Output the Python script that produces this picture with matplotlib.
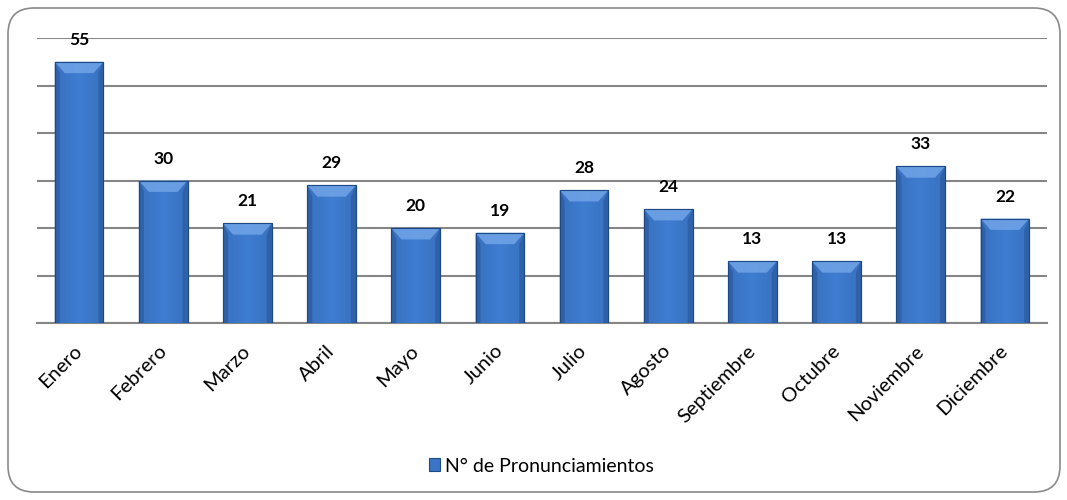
import matplotlib
matplotlib.use("Agg")
import matplotlib.pyplot as plt
import numpy as np
from matplotlib.patches import FancyBboxPatch, Polygon, Rectangle
from matplotlib.transforms import IdentityTransform

months = ["Enero", "Febrero", "Marzo", "Abril", "Mayo", "Junio", "Julio",
          "Agosto", "Septiembre", "Octubre", "Noviembre", "Diciembre"]
values = [55, 30, 21, 29, 20, 19, 28, 24, 13, 13, 33, 22]
series_name = "N° de Pronunciamientos"

plt.rcParams['font.family'] = ['Lato', 'DejaVu Sans']

fig = plt.figure(figsize=(10.67, 5.0), dpi=100)
W, H = 1067, 500

# rounded border (pixel coords)
border = FancyBboxPatch((8, 8), 1052, 484,
                        boxstyle="round,pad=0,rounding_size=26",
                        transform=IdentityTransform(), facecolor="none",
                        edgecolor="#8a8a8a", linewidth=1.2, zorder=-1)
fig.patches.append(border)

ax = fig.add_axes([37 / W, 1 - 323 / H, (1047 - 37) / W, (323 - 38) / H])
ax.set_facecolor("none")
ax.set_yticks(np.arange(0, 61, 10))
ax.yaxis.grid(True, color="#868686", linewidth=1.5)
ax.set_axisbelow(True)
for s in ["top", "right", "left"]:
    ax.spines[s].set_visible(False)
ax.spines["bottom"].set_color("#868686")
ax.spines["bottom"].set_linewidth(1.5)
ax.tick_params(axis="y", length=0, labelleft=False)
ax.tick_params(axis="x", length=0, pad=18)

x = np.arange(len(months))
bw = 0.58
bars = ax.bar(x, values, width=bw, color="#3b76c6", edgecolor="#1d4a86",
              linewidth=0.8, zorder=3, label=series_name)

# gradient/bevel decoration
grad = np.linspace(0, 1, 64)
prof = 1 - 0.35 * np.abs(grad - 0.5) * 2
cmap_img = np.zeros((1, 64, 4))
base = np.array([0x3b, 0x76, 0xc6]) / 255
for i, p in enumerate(prof):
    c = base * (0.78 + 0.28 * p)
    cmap_img[0, i, :3] = np.clip(c, 0, 1)
    cmap_img[0, i, 3] = 1
for rect, v in zip(bars, values):
    x0 = rect.get_x()
    w = rect.get_width()
    im = ax.imshow(cmap_img, extent=(x0, x0 + w, 0, v), aspect="auto",
                   zorder=3.1, interpolation="bilinear")
    im.set_clip_path(rect)
    dy = 2.4
    dx = 0.12
    top = Polygon([(x0, v), (x0 + w, v), (x0 + w - dx, v - dy), (x0 + dx, v - dy)],
                  closed=True, facecolor="#6ea2e6", edgecolor="none", zorder=3.2, alpha=0.9)
    ax.add_patch(top)
    left = Polygon([(x0, 0), (x0, v), (x0 + dx * 0.5, v - dy), (x0 + dx * 0.5, 0)],
                   closed=True, facecolor="#2a5a9e", edgecolor="none", zorder=3.2, alpha=0.7)
    right = Polygon([(x0 + w, 0), (x0 + w, v), (x0 + w - dx * 0.5, v - dy), (x0 + w - dx * 0.5, 0)],
                    closed=True, facecolor="#2a5a9e", edgecolor="none", zorder=3.2, alpha=0.7)
    ax.add_patch(left)
    ax.add_patch(right)
    outline = Rectangle((x0, 0), w, v, facecolor="none", edgecolor="#1d4a86",
                        linewidth=0.8, zorder=3.3)
    ax.add_patch(outline)
    ax.annotate(str(v), (x0 + w / 2, v), xytext=(0, 10), textcoords="offset points",
                ha="center", va="bottom", fontsize=12.5, fontweight="bold",
                color="black", zorder=4)

ax.set_xlim(-0.5, len(months) - 0.5)
ax.set_ylim(0, 60)
ax.set_xticks(x)
ax.set_xticklabels(months, rotation=45, ha="right", va="center",
                   rotation_mode="anchor", fontsize=14.5, color="black")

handle = Rectangle((0, 0), 1, 1, facecolor="#3b76c6", edgecolor="#1d4a86", linewidth=0.8)
fig.legend([handle], [series_name], loc="center",
           bbox_to_anchor=(0.5 + 8 / W, 1 - 466 / H),
           frameon=False, fontsize=14, handlelength=0.6, handleheight=0.6,
           handletextpad=0.25)

fig.savefig("out.png", dpi=100)
